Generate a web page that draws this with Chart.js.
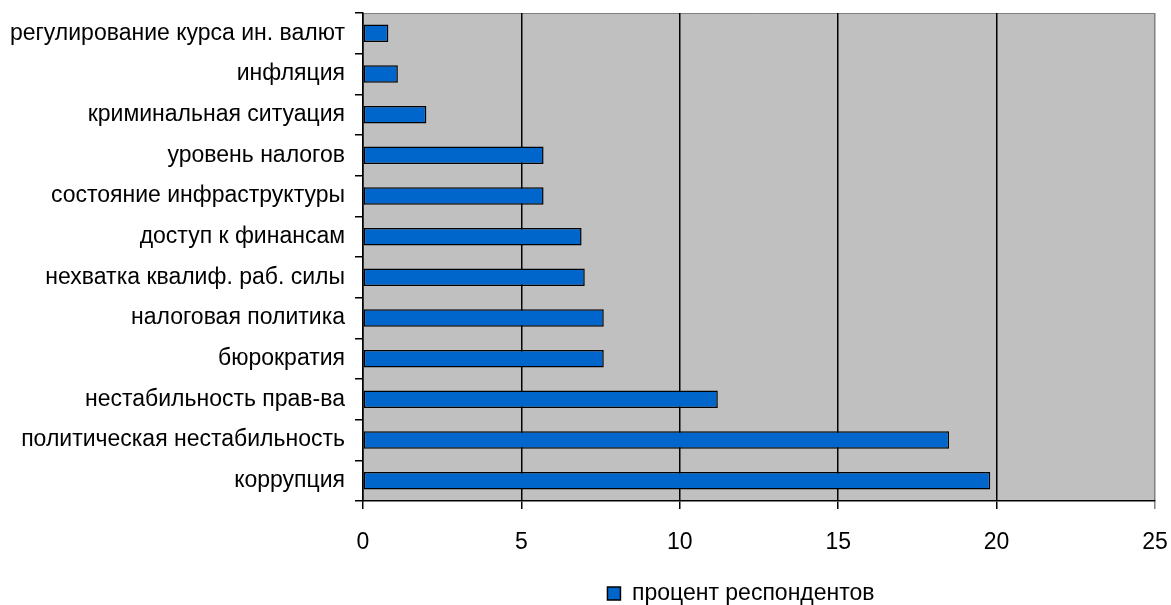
<!DOCTYPE html>
<html lang="ru">
<head>
    <meta charset="UTF-8">
    <title>Препятствия для бизнеса</title>
    <script src="https://cdn.jsdelivr.net/npm/chart.js"></script>
    <style>
        html, body {
            margin: 0;
            padding: 0;
            background: #ffffff;
        }
        .wrap {
            width: 1171px;
            height: 605px;
        }
    </style>
</head>
<body>
    <div class="wrap">
        <canvas id="barChart" width="1171" height="605"></canvas>
    </div>

    <script>
        // Data
        const categories = [
            'регулирование курса ин. валют',
            'инфляция',
            'криминальная ситуация',
            'уровень налогов',
            'состояние инфраструктуры',
            'доступ к финансам',
            'нехватка квалиф. раб. силы',
            'налоговая политика',
            'бюрократия',
            'нестабильность прав-ва',
            'политическая нестабильность',
            'коррупция'
        ];
        const seriesName = 'процент респондентов';
        const percentValues = [0.8, 1.1, 2.0, 5.7, 5.7, 6.9, 7.0, 7.6, 7.6, 11.2, 18.5, 19.8];
        const xTicks = [0, 5, 10, 15, 20, 25];

        const FONT = "'Liberation Sans', Arial, sans-serif";

        // Grey plot area like the original spreadsheet chart
        const plotBackground = {
            id: 'plotBackground',
            beforeDraw: (chart) => {
                const { ctx, chartArea } = chart;
                ctx.save();
                ctx.fillStyle = '#c0c0c0';
                ctx.fillRect(chartArea.left, chartArea.top,
                    chartArea.right - chartArea.left, chartArea.bottom - chartArea.top);
                ctx.strokeStyle = '#808080';
                ctx.lineWidth = 1;
                ctx.beginPath();
                ctx.moveTo(chartArea.left, chartArea.top + 0.5);
                ctx.lineTo(chartArea.right - 0.5, chartArea.top + 0.5);
                ctx.lineTo(chartArea.right - 0.5, chartArea.bottom);
                ctx.stroke();
                ctx.restore();
            }
        };

        // Legend sits a bit left of the plot centre in the original
        const legendShift = {
            id: 'legendShift',
            afterLayout: (chart) => {
                const lg = chart.legend;
                if (lg) {
                    lg.left -= 18;
                    lg.right -= 18;
                }
            }
        };

        const config = {
            type: 'bar',
            data: {
                labels: categories,
                datasets: [{
                    label: seriesName,
                    data: percentValues,
                    backgroundColor: '#0066cc',
                    borderColor: '#000000',
                    borderWidth: 1.5,
                    borderSkipped: false,
                    barPercentage: 0.43,
                    categoryPercentage: 1.0
                }]
            },
            options: {
                indexAxis: 'y',
                responsive: false,
                animation: false,
                layout: {
                    padding: { top: 13, right: 16, left: 0, bottom: -10 }
                },
                plugins: {
                    legend: {
                        position: 'bottom',
                        fullSize: false,
                        labels: {
                            font: { family: FONT, size: 23, lineHeight: 0.85 },
                            color: '#000000',
                            boxWidth: 13,
                            boxHeight: 13,
                            padding: 0
                        }
                    },
                    tooltip: { enabled: false }
                },
                scales: {
                    x: {
                        min: 0,
                        max: 25,
                        afterBuildTicks: (scale) => {
                            scale.ticks = xTicks.map(v => ({ value: v }));
                        },
                        afterFit: (scale) => {
                            scale.height = 81;
                            scale.paddingLeft = 0;
                            scale.paddingRight = 0;
                        },
                        ticks: {
                            font: { family: FONT, size: 23 },
                            color: '#000000',
                            padding: 20,
                            maxRotation: 0
                        },
                        border: { display: true, color: '#000000', width: 1.5 },
                        grid: {
                            color: (c) => (c.tick && c.tick.value === 25) ? '#808080' : '#000000',
                            lineWidth: 1.5,
                            drawTicks: true,
                            tickLength: 8
                        }
                    },
                    y: {
                        afterFit: (scale) => {
                            scale.width = 363;
                            scale.paddingTop = 0;
                            scale.paddingBottom = 0;
                        },
                        ticks: {
                            font: { family: FONT, size: 23 },
                            color: '#000000',
                            padding: 10
                        },
                        border: { display: true, color: '#000000', width: 1.5 },
                        grid: {
                            offset: true,
                            drawOnChartArea: false,
                            drawTicks: true,
                            tickLength: 8,
                            color: '#000000',
                            lineWidth: 1.5
                        }
                    }
                }
            },
            plugins: [plotBackground, legendShift]
        };

        new Chart(document.getElementById('barChart'), config);
    </script>
</body>
</html>
